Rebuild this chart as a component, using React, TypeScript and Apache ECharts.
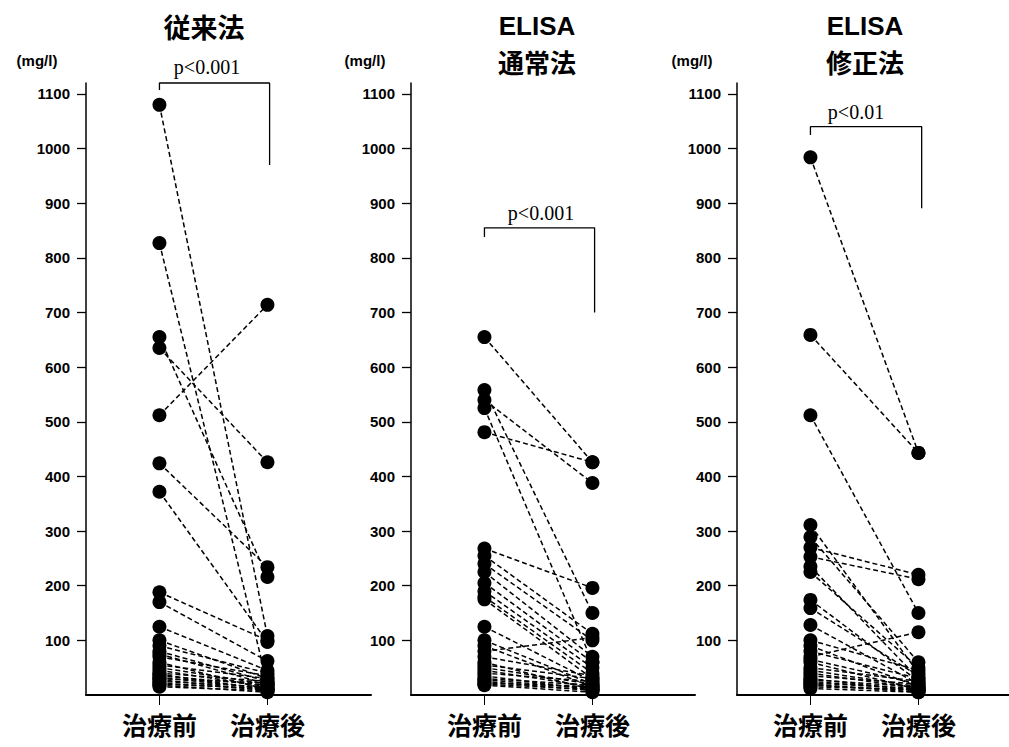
import React, { useEffect, useRef } from "react";
import * as echarts from "echarts";

const CATEGORIES = ["治療前", "治療後"];
const Y_TICKS = [100, 200, 300, 400, 500, 600, 700, 800, 900, 1000, 1100];
const PANEL_TITLES = [["従来法"], ["ELISA", "通常法"], ["ELISA", "修正法"]];
const P_LABELS = ["p<0.001", "p<0.001", "p<0.01"];

// 従来法
const conventionalPre = [1080, 827, 655, 635, 512, 424, 372, 188, 170, 125, 100, 90, 80, 75, 70, 60, 55, 50, 45, 40, 38, 35, 32, 30, 28, 25, 22, 20, 18, 15];
const conventionalPost = [108, 20, 216, 426, 714, 234, 97, 100, 62, 45, 30, 40, 25, 20, 35, 10, 30, 20, 15, 25, 10, 18, 12, 22, 8, 15, 10, 12, 5, 8];

// ELISA 通常法
const elisaStdPre = [655, 558, 540, 525, 481, 268, 255, 240, 225, 205, 190, 180, 175, 125, 100, 90, 80, 70, 60, 55, 50, 45, 40, 35, 30, 28, 25, 22, 20, 18];
const elisaStdPost = [426, 150, 388, 60, 426, 196, 112, 100, 70, 60, 50, 40, 30, 25, 20, 15, 105, 35, 10, 30, 20, 15, 25, 10, 18, 12, 8, 15, 10, 5];

// ELISA 修正法
const elisaModPre = [984, 659, 512, 311, 289, 270, 253, 235, 225, 174, 159, 128, 100, 90, 80, 70, 65, 60, 50, 45, 40, 35, 30, 28, 25, 22, 20, 18, 15, 12];
const elisaModPost = [443, 443, 150, 40, 60, 220, 212, 30, 50, 25, 35, 20, 45, 15, 30, 115, 20, 10, 25, 15, 12, 20, 8, 15, 10, 12, 5, 8, 10, 5];

// significance brackets (x: category position, y: mg/l)
const bracketConventional = [[1, 1107], [1, 1120], [2.02, 1120], [2.02, 970]];
const bracketElisaStd = [[1, 838], [1, 855], [2.02, 855], [2.02, 700]];
const bracketElisaMod = [[1, 1025], [1, 1040], [2.03, 1040], [2.03, 891]];

const PANELS = [
  { pre: conventionalPre, post: conventionalPost, bracket: bracketConventional },
  { pre: elisaStdPre, post: elisaStdPost, bracket: bracketElisaStd },
  { pre: elisaModPre, post: elisaModPost, bracket: bracketElisaMod },
];

const GRID_LEFT = [86, 411, 737];
const GRID_WIDTH = [285, 284, 272];
const PX_PER_UNIT = 108;
const X_MIN = 0.32;

const CJK = "'Noto Sans CJK JP', 'Noto Sans', sans-serif";
const SANS = "'Liberation Sans', Arial, sans-serif";

export default function App() {
  const ref = useRef<HTMLDivElement>(null);

  useEffect(() => {
    document.body.style.margin = "0";
    if (!ref.current) return;
    const chart = echarts.init(ref.current, null, { renderer: "svg" });

    const grids = GRID_LEFT.map((left, i) => ({
      left,
      top: 83,
      width: GRID_WIDTH[i],
      height: 612,
      containLabel: false,
    }));

    const xAxes = GRID_LEFT.map((_, i) => ({
      type: "value",
      gridIndex: i,
      min: X_MIN,
      max: X_MIN + GRID_WIDTH[i] / PX_PER_UNIT,
      splitLine: { show: false },
      axisLine: { show: true, onZero: false, lineStyle: { color: "#000", width: 2 } },
      axisTick: {
        show: true,
        customValues: [1, 2],
        length: 10,
        lineStyle: { color: "#000", width: 1 },
      },
      axisLabel: {
        show: true,
        customValues: [1, 2],
        formatter: (v: number) => CATEGORIES[Math.round(v) - 1] ?? "",
        fontSize: 25,
        lineHeight: 25,
        fontWeight: "bold",
        fontFamily: CJK,
        color: "#000",
        margin: 16,
      },
    }));

    const yAxes = GRID_LEFT.map((_, i) => ({
      type: "value",
      gridIndex: i,
      min: 0,
      max: 1120,
      splitLine: { show: false },
      axisLine: { show: true, onZero: false, lineStyle: { color: "#000", width: 1.5 } },
      axisTick: {
        show: true,
        customValues: Y_TICKS,
        length: 9,
        lineStyle: { color: "#000", width: 1.3 },
      },
      axisLabel: {
        show: true,
        customValues: Y_TICKS,
        formatter: (v: number) => String(v),
        fontSize: 15,
        fontWeight: "bold",
        fontFamily: SANS,
        color: "#000",
        margin: 16,
      },
    }));

    const series: any[] = [];
    PANELS.forEach((p, pi) => {
      series.push({
        type: "line",
        xAxisIndex: pi,
        yAxisIndex: pi,
        data: p.bracket,
        symbol: "none",
        clip: false,
        silent: true,
        z: 1,
        lineStyle: { color: "#000", width: 1.3, type: "solid" },
      });
      p.pre.forEach((v, i) => {
        series.push({
          type: "line",
          xAxisIndex: pi,
          yAxisIndex: pi,
          data: [
            [1, v],
            [2, p.post[i]],
          ],
          symbol: "circle",
          symbolSize: 14,
          silent: true,
          z: 2,
          itemStyle: { color: "#000" },
          lineStyle: { color: "#000", width: 1.5, type: [5, 3] },
        });
      });
    });

    const titleCenters = [204, 537, 865];
    const unitCenters = [37, 365, 692];
    const pPos = [
      [207, 67],
      [541, 213],
      [856, 112],
    ];

    const graphics: any[] = [];
    PANEL_TITLES.forEach((lines, i) => {
      lines.forEach((t, li) => {
        const two = lines.length > 1;
        const latin = two && li === 0;
        const fs = latin ? 26 : two ? 26 : 27;
        graphics.push({
          type: "text",
          x: titleCenters[i],
          y: !two ? 26 : latin ? 26 : 61,
          style: {
            text: t,
            fontSize: fs,
            lineHeight: fs,
            fontWeight: "bold",
            fontFamily: latin ? SANS : CJK,
            fill: "#000",
            align: "center",
            verticalAlign: "middle",
          },
        });
      });
      graphics.push({
        type: "text",
        x: unitCenters[i],
        y: 60,
        style: {
          text: "(mg/l)",
          fontSize: 15,
          fontWeight: "bold",
          fontFamily: SANS,
          fill: "#000",
          align: "center",
          verticalAlign: "middle",
        },
      });
      graphics.push({
        type: "text",
        x: pPos[i][0],
        y: pPos[i][1],
        style: {
          text: P_LABELS[i],
          fontSize: 20,
          fontFamily: "'Liberation Serif', 'Times New Roman', serif",
          fill: "#000",
          align: "center",
          verticalAlign: "middle",
        },
      });
    });

    chart.setOption({
      animation: false,
      backgroundColor: "#fff",
      grid: grids,
      xAxis: xAxes,
      yAxis: yAxes,
      series,
      graphic: graphics,
    });

    return () => chart.dispose();
  }, []);

  return <div ref={ref} style={{ width: 1009, height: 747 }} />;
}
